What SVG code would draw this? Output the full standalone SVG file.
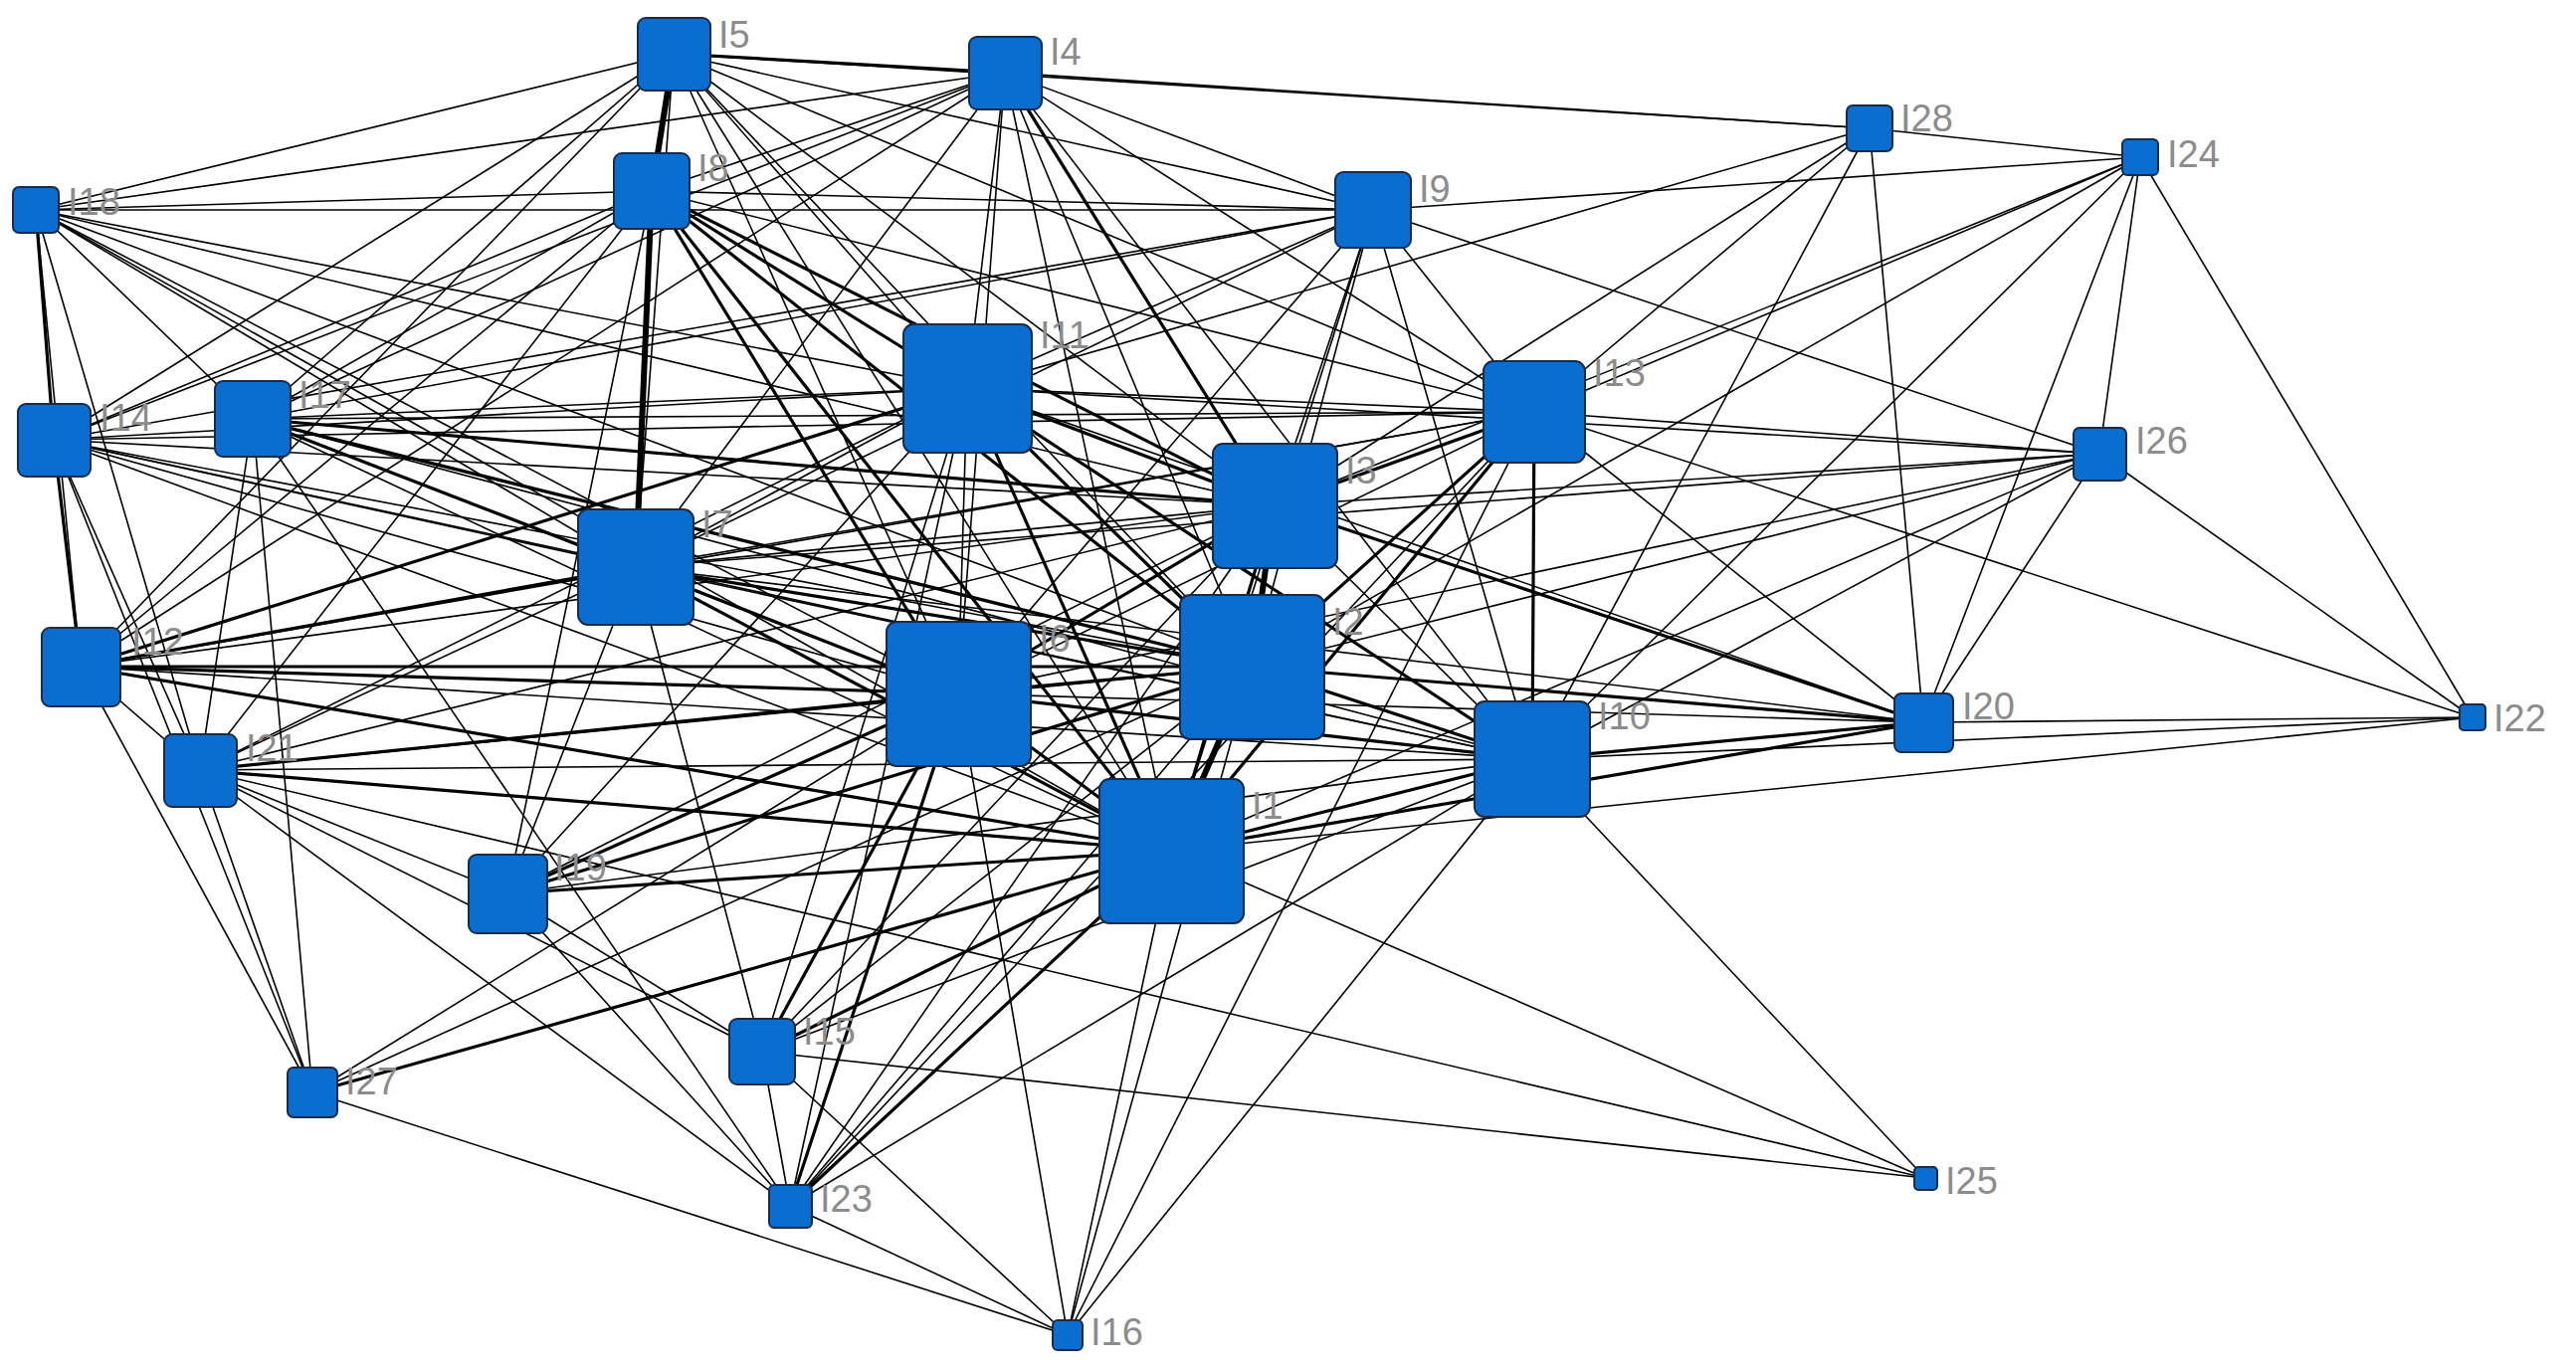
<svg xmlns="http://www.w3.org/2000/svg" width="2589" height="1378" viewBox="0 0 2589 1378">
<style>
.e{stroke:#000;stroke-width:1.6}
.m{stroke:#000;stroke-width:3.2}
.h{stroke:#000;stroke-width:6}
.n{fill:#0a6ed1;stroke:#1b2b45;stroke-width:2}
.l{font-family:"Liberation Sans",Arial,sans-serif;font-size:38px;fill:#8c8c8c}
</style>
<rect width="2589" height="1378" fill="#fff"/>
<g id="connectors">
<line class="h" x1="1177" y1="855" x2="1258" y2="670"/>
<line class="m" x1="1177" y1="855" x2="1281" y2="508"/>
<line class="e" x1="1177" y1="855" x2="1010" y2="73"/>
<line class="e" x1="1177" y1="855" x2="677" y2="54"/>
<line class="m" x1="1177" y1="855" x2="963" y2="697"/>
<line class="m" x1="1177" y1="855" x2="639" y2="570"/>
<line class="m" x1="1177" y1="855" x2="655" y2="192"/>
<line class="e" x1="1177" y1="855" x2="1380" y2="211"/>
<line class="m" x1="1177" y1="855" x2="1540" y2="763"/>
<line class="m" x1="1177" y1="855" x2="972" y2="390"/>
<line class="m" x1="1177" y1="855" x2="81" y2="670"/>
<line class="m" x1="1177" y1="855" x2="1542" y2="414"/>
<line class="e" x1="1177" y1="855" x2="54" y2="442"/>
<line class="m" x1="1177" y1="855" x2="766" y2="1057"/>
<line class="e" x1="1177" y1="855" x2="1073" y2="1342"/>
<line class="e" x1="1177" y1="855" x2="254" y2="421"/>
<line class="e" x1="1177" y1="855" x2="36" y2="211"/>
<line class="m" x1="1177" y1="855" x2="510" y2="898"/>
<line class="m" x1="1177" y1="855" x2="1933" y2="726"/>
<line class="m" x1="1177" y1="855" x2="201" y2="774"/>
<line class="e" x1="1177" y1="855" x2="2485" y2="721"/>
<line class="m" x1="1177" y1="855" x2="794" y2="1212"/>
<line class="e" x1="1177" y1="855" x2="1935" y2="1184"/>
<line class="e" x1="1177" y1="855" x2="2110" y2="456"/>
<line class="m" x1="1177" y1="855" x2="314" y2="1098"/>
<line class="h" x1="1258" y1="670" x2="1281" y2="508"/>
<line class="e" x1="1258" y1="670" x2="1010" y2="73"/>
<line class="e" x1="1258" y1="670" x2="677" y2="54"/>
<line class="m" x1="1258" y1="670" x2="963" y2="697"/>
<line class="m" x1="1258" y1="670" x2="639" y2="570"/>
<line class="m" x1="1258" y1="670" x2="655" y2="192"/>
<line class="e" x1="1258" y1="670" x2="1380" y2="211"/>
<line class="m" x1="1258" y1="670" x2="1540" y2="763"/>
<line class="m" x1="1258" y1="670" x2="972" y2="390"/>
<line class="m" x1="1258" y1="670" x2="81" y2="670"/>
<line class="m" x1="1258" y1="670" x2="1542" y2="414"/>
<line class="e" x1="1258" y1="670" x2="54" y2="442"/>
<line class="e" x1="1258" y1="670" x2="766" y2="1057"/>
<line class="e" x1="1258" y1="670" x2="1073" y2="1342"/>
<line class="m" x1="1258" y1="670" x2="254" y2="421"/>
<line class="e" x1="1258" y1="670" x2="36" y2="211"/>
<line class="m" x1="1258" y1="670" x2="510" y2="898"/>
<line class="m" x1="1258" y1="670" x2="1933" y2="726"/>
<line class="e" x1="1258" y1="670" x2="201" y2="774"/>
<line class="e" x1="1258" y1="670" x2="794" y2="1212"/>
<line class="e" x1="1258" y1="670" x2="2151" y2="158"/>
<line class="e" x1="1258" y1="670" x2="2110" y2="456"/>
<line class="e" x1="1258" y1="670" x2="314" y2="1098"/>
<line class="m" x1="1281" y1="508" x2="1010" y2="73"/>
<line class="e" x1="1281" y1="508" x2="677" y2="54"/>
<line class="m" x1="1281" y1="508" x2="963" y2="697"/>
<line class="e" x1="1281" y1="508" x2="639" y2="570"/>
<line class="m" x1="1281" y1="508" x2="655" y2="192"/>
<line class="e" x1="1281" y1="508" x2="1380" y2="211"/>
<line class="e" x1="1281" y1="508" x2="1540" y2="763"/>
<line class="m" x1="1281" y1="508" x2="972" y2="390"/>
<line class="e" x1="1281" y1="508" x2="81" y2="670"/>
<line class="m" x1="1281" y1="508" x2="1542" y2="414"/>
<line class="e" x1="1281" y1="508" x2="54" y2="442"/>
<line class="e" x1="1281" y1="508" x2="766" y2="1057"/>
<line class="m" x1="1281" y1="508" x2="254" y2="421"/>
<line class="e" x1="1281" y1="508" x2="36" y2="211"/>
<line class="e" x1="1281" y1="508" x2="510" y2="898"/>
<line class="m" x1="1281" y1="508" x2="1933" y2="726"/>
<line class="e" x1="1281" y1="508" x2="201" y2="774"/>
<line class="e" x1="1281" y1="508" x2="794" y2="1212"/>
<line class="e" x1="1281" y1="508" x2="2151" y2="158"/>
<line class="e" x1="1281" y1="508" x2="2110" y2="456"/>
<line class="e" x1="1281" y1="508" x2="1879" y2="129"/>
<line class="e" x1="963" y1="697" x2="1010" y2="73"/>
<line class="e" x1="963" y1="697" x2="677" y2="54"/>
<line class="m" x1="963" y1="697" x2="639" y2="570"/>
<line class="m" x1="963" y1="697" x2="655" y2="192"/>
<line class="e" x1="963" y1="697" x2="1380" y2="211"/>
<line class="m" x1="963" y1="697" x2="1540" y2="763"/>
<line class="e" x1="963" y1="697" x2="972" y2="390"/>
<line class="m" x1="963" y1="697" x2="81" y2="670"/>
<line class="e" x1="963" y1="697" x2="1542" y2="414"/>
<line class="e" x1="963" y1="697" x2="54" y2="442"/>
<line class="m" x1="963" y1="697" x2="766" y2="1057"/>
<line class="e" x1="963" y1="697" x2="1073" y2="1342"/>
<line class="e" x1="963" y1="697" x2="254" y2="421"/>
<line class="e" x1="963" y1="697" x2="36" y2="211"/>
<line class="m" x1="963" y1="697" x2="510" y2="898"/>
<line class="e" x1="963" y1="697" x2="1933" y2="726"/>
<line class="m" x1="963" y1="697" x2="201" y2="774"/>
<line class="m" x1="963" y1="697" x2="794" y2="1212"/>
<line class="e" x1="963" y1="697" x2="2110" y2="456"/>
<line class="e" x1="963" y1="697" x2="314" y2="1098"/>
<line class="e" x1="639" y1="570" x2="1010" y2="73"/>
<line class="e" x1="639" y1="570" x2="677" y2="54"/>
<line class="h" x1="639" y1="570" x2="655" y2="192"/>
<line class="e" x1="639" y1="570" x2="1380" y2="211"/>
<line class="e" x1="639" y1="570" x2="1540" y2="763"/>
<line class="e" x1="639" y1="570" x2="972" y2="390"/>
<line class="m" x1="639" y1="570" x2="81" y2="670"/>
<line class="e" x1="639" y1="570" x2="1542" y2="414"/>
<line class="e" x1="639" y1="570" x2="54" y2="442"/>
<line class="e" x1="639" y1="570" x2="766" y2="1057"/>
<line class="m" x1="639" y1="570" x2="254" y2="421"/>
<line class="e" x1="639" y1="570" x2="36" y2="211"/>
<line class="e" x1="639" y1="570" x2="510" y2="898"/>
<line class="e" x1="639" y1="570" x2="1933" y2="726"/>
<line class="e" x1="639" y1="570" x2="201" y2="774"/>
<line class="e" x1="639" y1="570" x2="2110" y2="456"/>
<line class="e" x1="972" y1="390" x2="1010" y2="73"/>
<line class="e" x1="972" y1="390" x2="677" y2="54"/>
<line class="m" x1="972" y1="390" x2="655" y2="192"/>
<line class="e" x1="972" y1="390" x2="1380" y2="211"/>
<line class="m" x1="972" y1="390" x2="1540" y2="763"/>
<line class="m" x1="972" y1="390" x2="81" y2="670"/>
<line class="e" x1="972" y1="390" x2="1542" y2="414"/>
<line class="e" x1="972" y1="390" x2="54" y2="442"/>
<line class="e" x1="972" y1="390" x2="766" y2="1057"/>
<line class="e" x1="972" y1="390" x2="254" y2="421"/>
<line class="e" x1="972" y1="390" x2="36" y2="211"/>
<line class="e" x1="972" y1="390" x2="510" y2="898"/>
<line class="e" x1="972" y1="390" x2="1933" y2="726"/>
<line class="e" x1="972" y1="390" x2="201" y2="774"/>
<line class="e" x1="972" y1="390" x2="794" y2="1212"/>
<line class="e" x1="972" y1="390" x2="2110" y2="456"/>
<line class="e" x1="972" y1="390" x2="1879" y2="129"/>
<line class="e" x1="1540" y1="763" x2="1010" y2="73"/>
<line class="e" x1="1540" y1="763" x2="1380" y2="211"/>
<line class="e" x1="1540" y1="763" x2="81" y2="670"/>
<line class="m" x1="1540" y1="763" x2="1542" y2="414"/>
<line class="e" x1="1540" y1="763" x2="54" y2="442"/>
<line class="e" x1="1540" y1="763" x2="766" y2="1057"/>
<line class="e" x1="1540" y1="763" x2="254" y2="421"/>
<line class="e" x1="1540" y1="763" x2="510" y2="898"/>
<line class="m" x1="1540" y1="763" x2="1933" y2="726"/>
<line class="e" x1="1540" y1="763" x2="201" y2="774"/>
<line class="e" x1="1540" y1="763" x2="2485" y2="721"/>
<line class="e" x1="1540" y1="763" x2="794" y2="1212"/>
<line class="e" x1="1540" y1="763" x2="2151" y2="158"/>
<line class="e" x1="1540" y1="763" x2="1935" y2="1184"/>
<line class="e" x1="1540" y1="763" x2="2110" y2="456"/>
<line class="e" x1="1540" y1="763" x2="1879" y2="129"/>
<line class="e" x1="1540" y1="763" x2="1073" y2="1342"/>
<line class="e" x1="1542" y1="414" x2="1010" y2="73"/>
<line class="e" x1="1542" y1="414" x2="677" y2="54"/>
<line class="e" x1="1542" y1="414" x2="655" y2="192"/>
<line class="e" x1="1542" y1="414" x2="1380" y2="211"/>
<line class="e" x1="1542" y1="414" x2="81" y2="670"/>
<line class="e" x1="1542" y1="414" x2="54" y2="442"/>
<line class="e" x1="1542" y1="414" x2="254" y2="421"/>
<line class="e" x1="1542" y1="414" x2="1933" y2="726"/>
<line class="e" x1="1542" y1="414" x2="2485" y2="721"/>
<line class="e" x1="1542" y1="414" x2="794" y2="1212"/>
<line class="e" x1="1542" y1="414" x2="2151" y2="158"/>
<line class="e" x1="1542" y1="414" x2="2110" y2="456"/>
<line class="e" x1="1542" y1="414" x2="1879" y2="129"/>
<line class="e" x1="1542" y1="414" x2="1073" y2="1342"/>
<line class="h" x1="655" y1="192" x2="677" y2="54"/>
<line class="e" x1="655" y1="192" x2="1010" y2="73"/>
<line class="e" x1="655" y1="192" x2="1380" y2="211"/>
<line class="e" x1="655" y1="192" x2="54" y2="442"/>
<line class="e" x1="655" y1="192" x2="254" y2="421"/>
<line class="e" x1="655" y1="192" x2="36" y2="211"/>
<line class="e" x1="655" y1="192" x2="510" y2="898"/>
<line class="e" x1="655" y1="192" x2="81" y2="670"/>
<line class="e" x1="655" y1="192" x2="201" y2="774"/>
<line class="m" x1="677" y1="54" x2="1010" y2="73"/>
<line class="e" x1="677" y1="54" x2="1879" y2="129"/>
<line class="e" x1="677" y1="54" x2="36" y2="211"/>
<line class="e" x1="677" y1="54" x2="54" y2="442"/>
<line class="e" x1="677" y1="54" x2="254" y2="421"/>
<line class="e" x1="677" y1="54" x2="1380" y2="211"/>
<line class="e" x1="677" y1="54" x2="81" y2="670"/>
<line class="e" x1="1010" y1="73" x2="1879" y2="129"/>
<line class="e" x1="1010" y1="73" x2="36" y2="211"/>
<line class="e" x1="1010" y1="73" x2="254" y2="421"/>
<line class="e" x1="1010" y1="73" x2="54" y2="442"/>
<line class="e" x1="1010" y1="73" x2="1380" y2="211"/>
<line class="e" x1="1010" y1="73" x2="81" y2="670"/>
<line class="e" x1="1380" y1="211" x2="36" y2="211"/>
<line class="e" x1="1380" y1="211" x2="254" y2="421"/>
<line class="e" x1="1380" y1="211" x2="54" y2="442"/>
<line class="e" x1="1380" y1="211" x2="2151" y2="158"/>
<line class="e" x1="1380" y1="211" x2="2110" y2="456"/>
<line class="e" x1="81" y1="670" x2="54" y2="442"/>
<line class="e" x1="81" y1="670" x2="36" y2="211"/>
<line class="e" x1="81" y1="670" x2="314" y2="1098"/>
<line class="e" x1="81" y1="670" x2="201" y2="774"/>
<line class="m" x1="36" y1="211" x2="54" y2="442"/>
<line class="e" x1="36" y1="211" x2="254" y2="421"/>
<line class="e" x1="36" y1="211" x2="201" y2="774"/>
<line class="m" x1="54" y1="442" x2="81" y2="670"/>
<line class="e" x1="54" y1="442" x2="201" y2="774"/>
<line class="e" x1="54" y1="442" x2="314" y2="1098"/>
<line class="e" x1="254" y1="421" x2="201" y2="774"/>
<line class="e" x1="254" y1="421" x2="314" y2="1098"/>
<line class="e" x1="254" y1="421" x2="794" y2="1212"/>
<line class="e" x1="201" y1="774" x2="314" y2="1098"/>
<line class="e" x1="201" y1="774" x2="510" y2="898"/>
<line class="e" x1="201" y1="774" x2="766" y2="1057"/>
<line class="e" x1="201" y1="774" x2="794" y2="1212"/>
<line class="e" x1="510" y1="898" x2="766" y2="1057"/>
<line class="e" x1="510" y1="898" x2="794" y2="1212"/>
<line class="e" x1="766" y1="1057" x2="794" y2="1212"/>
<line class="e" x1="766" y1="1057" x2="1935" y2="1184"/>
<line class="e" x1="766" y1="1057" x2="1073" y2="1342"/>
<line class="e" x1="314" y1="1098" x2="1073" y2="1342"/>
<line class="e" x1="794" y1="1212" x2="1073" y2="1342"/>
<line class="e" x1="1933" y1="726" x2="2485" y2="721"/>
<line class="e" x1="1933" y1="726" x2="2110" y2="456"/>
<line class="e" x1="1933" y1="726" x2="1879" y2="129"/>
<line class="e" x1="2110" y1="456" x2="2151" y2="158"/>
<line class="e" x1="2110" y1="456" x2="2485" y2="721"/>
<line class="e" x1="2151" y1="158" x2="1879" y2="129"/>
<line class="e" x1="2151" y1="158" x2="1933" y2="726"/>
<line class="e" x1="2151" y1="158" x2="2485" y2="721"/>
<line class="e" x1="1935" y1="1184" x2="201" y2="774"/>
</g>
<g id="I1"><rect class="n" x="1105" y="783" width="145" height="145" rx="10"/><text class="l" x="1258" y="823">I1</text></g>
<g id="I2"><rect class="n" x="1186" y="598" width="145" height="145" rx="10"/><text class="l" x="1339" y="638">I2</text></g>
<g id="I3"><rect class="n" x="1219" y="446" width="125" height="125" rx="10"/><text class="l" x="1352" y="486">I3</text></g>
<g id="I4"><rect class="n" x="974" y="37" width="73" height="73" rx="8"/><text class="l" x="1055" y="65">I4</text></g>
<g id="I5"><rect class="n" x="641" y="18" width="73" height="73" rx="8"/><text class="l" x="722" y="48">I5</text></g>
<g id="I6"><rect class="n" x="891" y="625" width="145" height="145" rx="10"/><text class="l" x="1044" y="655">I6</text></g>
<g id="I7"><rect class="n" x="581" y="512" width="116" height="116" rx="10"/><text class="l" x="705" y="540">I7</text></g>
<g id="I8"><rect class="n" x="617" y="154" width="76" height="76" rx="8"/><text class="l" x="701" y="182">I8</text></g>
<g id="I9"><rect class="n" x="1342" y="173" width="76" height="76" rx="8"/><text class="l" x="1426" y="203">I9</text></g>
<g id="I10"><rect class="n" x="1482" y="705" width="116" height="116" rx="10"/><text class="l" x="1606" y="733">I10</text></g>
<g id="I11"><rect class="n" x="908" y="326" width="129" height="129" rx="10"/><text class="l" x="1045" y="350">I11</text></g>
<g id="I12"><rect class="n" x="42" y="631" width="79" height="79" rx="8"/><text class="l" x="132" y="658">I12</text></g>
<g id="I13"><rect class="n" x="1491" y="363" width="102" height="102" rx="10"/><text class="l" x="1601" y="388">I13</text></g>
<g id="I14"><rect class="n" x="18" y="406" width="73" height="73" rx="8"/><text class="l" x="100" y="433">I14</text></g>
<g id="I15"><rect class="n" x="733" y="1024" width="66" height="66" rx="8"/><text class="l" x="807" y="1050">I15</text></g>
<g id="I16"><rect class="n" x="1058" y="1327" width="30" height="30" rx="5"/><text class="l" x="1096" y="1352">I16</text></g>
<g id="I17"><rect class="n" x="216" y="383" width="76" height="76" rx="8"/><text class="l" x="300" y="410">I17</text></g>
<g id="I18"><rect class="n" x="13" y="188" width="46" height="46" rx="6"/><text class="l" x="68" y="216">I18</text></g>
<g id="I19"><rect class="n" x="471" y="859" width="79" height="79" rx="8"/><text class="l" x="557" y="885">I19</text></g>
<g id="I20"><rect class="n" x="1904" y="697" width="59" height="59" rx="7"/><text class="l" x="1972" y="723">I20</text></g>
<g id="I21"><rect class="n" x="165" y="738" width="73" height="73" rx="8"/><text class="l" x="247" y="765">I21</text></g>
<g id="I22"><rect class="n" x="2472" y="708" width="26" height="26" rx="4"/><text class="l" x="2506" y="735">I22</text></g>
<g id="I23"><rect class="n" x="773" y="1191" width="43" height="43" rx="5"/><text class="l" x="824" y="1218">I23</text></g>
<g id="I24"><rect class="n" x="2133" y="140" width="36" height="36" rx="5"/><text class="l" x="2178" y="168">I24</text></g>
<g id="I25"><rect class="n" x="1924" y="1173" width="23" height="23" rx="4"/><text class="l" x="1955" y="1200">I25</text></g>
<g id="I26"><rect class="n" x="2084" y="430" width="53" height="53" rx="6"/><text class="l" x="2146" y="456">I26</text></g>
<g id="I27"><rect class="n" x="289" y="1073" width="50" height="50" rx="6"/><text class="l" x="347" y="1100">I27</text></g>
<g id="I28"><rect class="n" x="1856" y="106" width="46" height="46" rx="6"/><text class="l" x="1910" y="132">I28</text></g>
</svg>
